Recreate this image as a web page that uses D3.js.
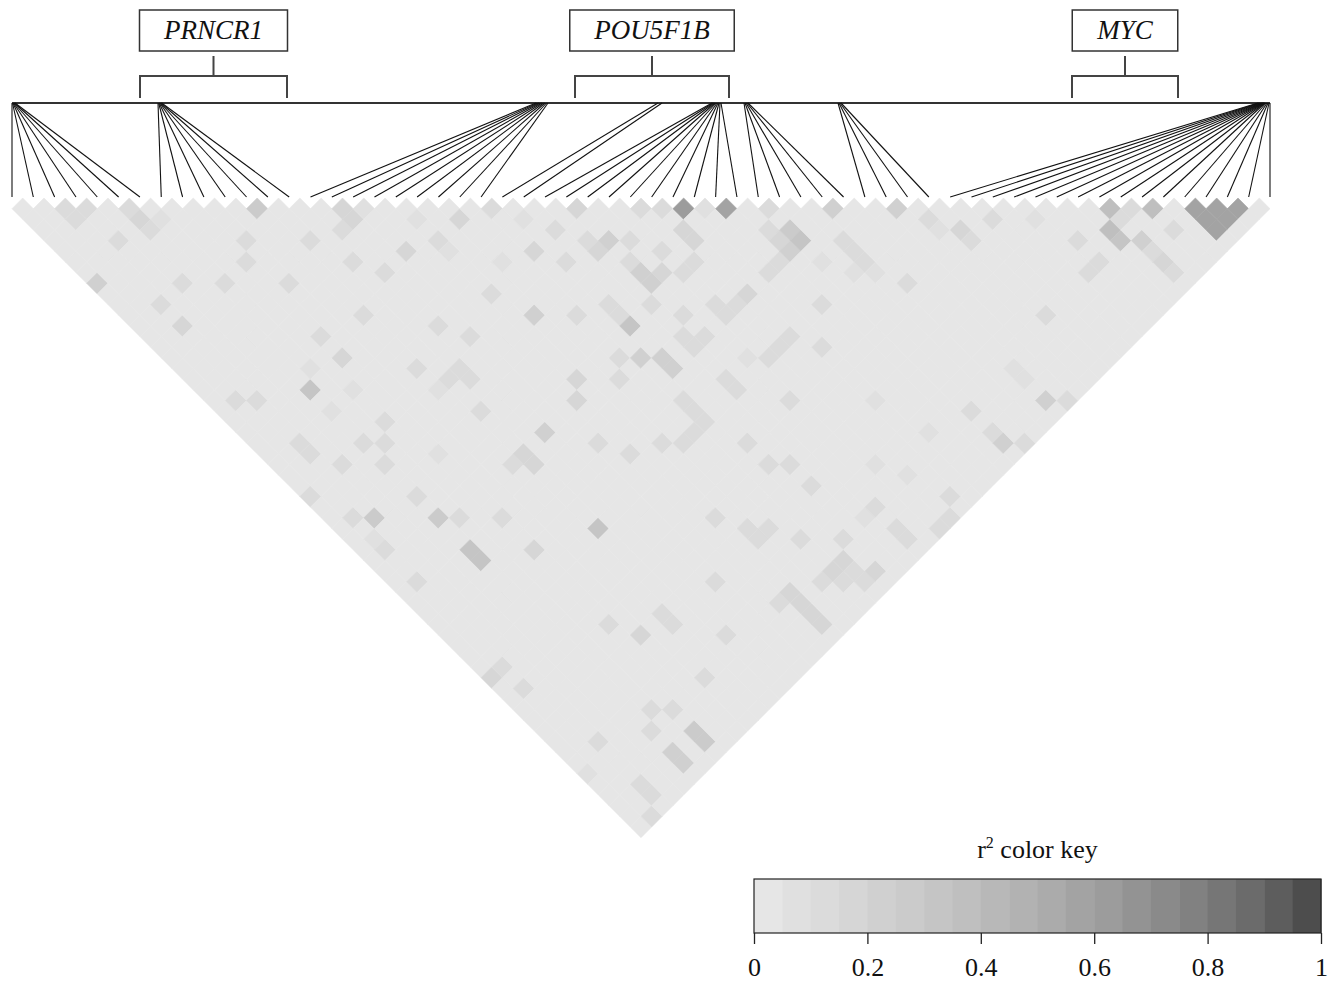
<!DOCTYPE html>
<html><head><meta charset="utf-8">
<script src="https://cdn.jsdelivr.net/npm/d3@7"></script>
<style>body{margin:0;background:#fff}svg{display:block}</style>
</head><body><svg id="c" width="1342" height="983"></svg>
<script>
// ---- DATA ----
// SNP genomic positions (kb from region start)
const snpPosKb = [
  0.0, 0.3, 0.6, 0.9, 1.2, 1.5, 1.8,
  87.6, 88.0, 88.3, 88.7, 89.0, 89.4, 89.8,
  314.4, 315.3, 316.2, 317.1, 318.0, 318.9, 319.8, 320.7, 321.6,
  387.6, 390.0,
  420.0, 420.6, 421.2, 421.8, 422.4, 423.0, 423.6, 424.2, 424.8, 425.4,
  439.2, 439.8, 440.4, 441.0, 441.6,
  495.6, 496.2, 496.8, 497.4,
  747.6, 748.2, 748.8, 749.4, 750.0, 750.3, 750.6, 750.9, 751.2, 751.5, 751.8, 752.4, 753.0, 753.6, 754.2, 754.8
];
const geneNames = ["PRNCR1", "POU5F1B", "MYC"];
const geneStartKb = [76.8, 337.8, 636.0];
const geneEndKb = [165.0, 430.2, 699.6];
// r2 of all other SNP pairs: below 0.05 (lightest key colour)
const baseR2 = 0.02;
// [snpA, snpB, r2] (1-based SNP order) for pairs darker than the background
const ldPairs = [
  [3,4,0.1],[4,5,0.1],[6,7,0.1],[12,13,0.25],[16,17,0.15],[17,18,0.08],[23,24,0.1],[27,28,0.15],
  [30,31,0.12],[31,32,0.1],[32,33,0.6],[33,34,0.08],[34,35,0.55],[36,37,0.1],[39,40,0.2],[42,43,0.2],
  [52,53,0.35],[53,54,0.12],[54,55,0.35],[56,57,0.55],[57,58,0.55],[58,59,0.55],
  [56,58,0.55],[57,59,0.55],[56,59,0.55],
  [3,5,0.1],[6,8,0.18],[6,9,0.1],[7,9,0.08],[16,18,0.18],[15,18,0.1],[19,21,0.08],[21,23,0.15],
  [19,23,0.12],[19,24,0.08],[21,27,0.08],[23,28,0.15],[24,26,0.08],[25,28,0.1],[24,30,0.1],[26,30,0.12],
  [27,31,0.2],[26,31,0.15],[27,33,0.12],[27,34,0.2],[27,35,0.2],[28,35,0.15],[28,32,0.1],[29,34,0.12],
  [31,34,0.15],[31,35,0.15],[30,36,0.12],[29,36,0.1],[35,38,0.1],[36,39,0.25],[36,40,0.3],[35,40,0.2],
  [34,40,0.12],[35,39,0.15],[33,40,0.1],[31,40,0.15],[30,40,0.12],[29,40,0.12],[38,42,0.12],[38,43,0.1],
  [36,42,0.08],[34,44,0.1],[32,46,0.1],[19,28,0.1],[20,31,0.2],[22,33,0.12],[24,34,0.12],[24,35,0.12],
  [24,36,0.3],[26,36,0.1],[27,38,0.1],[29,39,0.12],[26,39,0.12],[26,40,0.12],[27,40,0.1],[23,38,0.2],
  [24,39,0.2],[24,40,0.2],[22,37,0.1],[21,38,0.1],[19,36,0.15],[18,37,0.15],[15,27,0.1],[16,29,0.1],
  [14,30,0.1],[13,30,0.1],[14,31,0.1],[12,30,0.08],[13,33,0.1],[15,37,0.2],[13,37,0.15],[13,38,0.15],
  [12,37,0.12],[17,40,0.1],[18,42,0.12],[20,43,0.1],[23,42,0.12],[23,43,0.12],[23,44,0.12],[22,44,0.1],
  [21,44,0.1],[26,43,0.12],[26,44,0.1],[24,47,0.1],[24,49,0.1],[25,50,0.1],[28,47,0.1],[31,44,0.1],
  [30,44,0.1],[29,44,0.1],[28,43,0.08],[25,52,0.1],[37,44,0.08],[26,56,0.08],
  [1,9,0.2],[4,8,0.1],[3,15,0.15],[3,13,0.1],[5,13,0.1],[10,14,0.1],[9,15,0.1],[7,15,0.1],
  [10,18,0.1],[13,17,0.1],[14,20,0.1],[17,22,0.15],[15,22,0.1],[12,23,0.1],[9,22,0.1],[9,24,0.15],
  [6,24,0.3],[7,23,0.08],[8,26,0.08],[6,26,0.08],[2,21,0.1],[3,22,0.1],[3,26,0.1],[3,27,0.1],
  [4,29,0.1],[6,31,0.1],[8,29,0.1],[6,29,0.1],[7,30,0.1],[1,29,0.1],[3,33,0.25],[2,32,0.1],
  [6,34,0.1],[12,28,0.1],[9,33,0.08],
  [6,36,0.25],[7,37,0.1],[6,39,0.3],[6,40,0.3],[9,39,0.1],[13,44,0.3],[9,42,0.15],[2,35,0.1],
  [2,34,0.08],[2,38,0.1],[1,46,0.15],[2,46,0.12],[2,48,0.12],[9,49,0.1],[10,51,0.15],[12,51,0.12],
  [12,52,0.12],[14,55,0.12],[16,52,0.1],[19,49,0.1],[11,56,0.12],[7,55,0.12],[8,56,0.12],[6,56,0.1],
  [8,58,0.25],[8,59,0.25],[6,58,0.22],[6,59,0.22],[3,54,0.1],[1,55,0.08],[3,58,0.12],[3,59,0.1],[2,60,0.12],
  [20,51,0.12],[20,52,0.12],[21,52,0.1],[22,54,0.1],[24,56,0.12],[23,57,0.15],[22,57,0.15],[21,57,0.1],
  [22,58,0.12],[23,58,0.12],[24,59,0.15],[23,59,0.12],[19,56,0.15],[19,57,0.15],[19,58,0.15],[19,59,0.15],
  [18,56,0.1],[27,58,0.1],[29,60,0.12],[27,56,0.1],[27,59,0.1],
  [43,45,0.1],[43,46,0.08],[44,47,0.15],[44,48,0.12],[46,48,0.1],[48,50,0.08],[49,53,0.1],[48,55,0.1],
  [49,55,0.1],[51,54,0.35],[51,55,0.3],[52,56,0.2],[52,54,0.12],[52,58,0.15],[52,59,0.12],[54,57,0.1],
  [52,57,0.1],[39,47,0.12],[38,45,0.08],[44,55,0.12],[40,56,0.08],[40,57,0.08],[40,59,0.2],[41,60,0.12],
  [36,56,0.1],[36,58,0.1],[36,59,0.2],[37,60,0.12],[33,55,0.08],[32,51,0.08],[29,54,0.08],[30,56,0.08],
  [31,59,0.12],[30,60,0.1],[38,44,0.1]
];
const keyTicks = [0, 0.2, 0.4, 0.6, 0.8, 1];
const keyTickLabels = ["0", "0.2", "0.4", "0.6", "0.8", "1"];
const keyBins = 20;

// ---- DRAW ----
const svg = d3.select("#c");
const serif = "'Liberation Serif','Times New Roman',serif";
const n = snpPosKb.length;
const xIdx = d3.scaleLinear().domain([1, n]).range([12, 1270]);
const xGen = d3.scaleLinear().domain([snpPosKb[0], snpPosKb[n - 1]]).range([12, 1270]);
const yTop = 198, yGen = 103, yLineEnd = 197;
const h = (xIdx(2) - xIdx(1)) / 2;

const A = Math.pow(0.9, 2.2), B = Math.pow(0.3, 2.2);
const greys = d3.range(keyBins).map(k => {
  const g = Math.round(255 * Math.pow(A - (A - B) * k / (keyBins - 1), 1 / 2.2));
  return d3.rgb(g, g, g).formatHex();
});
const color = d3.scaleQuantize().domain([0, 1]).range(greys);

const r2Map = new Map(ldPairs.map(p => [p[0] + "-" + p[1], p[2]]));
const cells = [];
for (let i = 1; i < n; i++) for (let j = i + 1; j <= n; j++) {
  const v = r2Map.has(i + "-" + j) ? r2Map.get(i + "-" + j) : baseR2;
  cells.push({ i, j, r2: v });
}
svg.append("g").selectAll("path").data(cells).join("path")
  .attr("d", c => {
    const cx = (xIdx(c.i) + xIdx(c.j)) / 2, cy = yTop + (c.j - c.i) * h;
    return `M${cx},${cy - h}L${cx + h},${cy}L${cx},${cy + h}L${cx - h},${cy}Z`;
  })
  .attr("fill", c => color(c.r2))
  .attr("stroke", c => color(c.r2))
  .attr("stroke-width", 0.6);

// genomic line and connectors
svg.append("line").attr("x1", xGen(snpPosKb[0])).attr("x2", xGen(snpPosKb[n - 1]))
  .attr("y1", yGen).attr("y2", yGen).attr("stroke", "#333").attr("stroke-width", 2);
svg.append("g").selectAll("line").data(snpPosKb).join("line")
  .attr("x1", p => xGen(p)).attr("y1", yGen)
  .attr("x2", (p, k) => xIdx(k + 1)).attr("y2", yLineEnd)
  .attr("stroke", "#111").attr("stroke-width", 1.1);

// genes
const gg = svg.append("g");
geneNames.forEach((g, k) => {
  const x0 = xGen(geneStartKb[k]), x1 = xGen(geneEndKb[k]), xm = (x0 + x1) / 2;
  gg.append("path").attr("d", `M${x0},98V76H${x1}V98M${xm},76V56`)
    .attr("fill", "none").attr("stroke", "#444").attr("stroke-width", 2);
  const t = gg.append("text").attr("x", xm).attr("y", 39).attr("text-anchor", "middle")
    .attr("font-family", serif).attr("font-style", "italic").attr("font-size", 27).attr("fill", "#111").text(g);
  const bb = t.node().getBBox();
  gg.insert("rect", "text").attr("x", xm - bb.width / 2 - 24).attr("y", 10)
    .attr("width", bb.width + 48).attr("height", 41)
    .attr("fill", "#fff").attr("stroke", "#333").attr("stroke-width", 1.5);
});

// color key
const kx = d3.scaleLinear().domain([0, 1]).range([754, 1321]);
const ky0 = 879, ky1 = 933;
const kg = svg.append("g");
kg.selectAll("rect.bin").data(greys).join("rect").attr("class", "bin")
  .attr("x", (c, k) => kx(k / keyBins)).attr("y", ky0)
  .attr("width", kx(1 / keyBins) - kx(0) + 0.5).attr("height", ky1 - ky0).attr("fill", c => c);
kg.append("rect").attr("x", kx(0)).attr("y", ky0).attr("width", kx(1) - kx(0)).attr("height", ky1 - ky0)
  .attr("fill", "none").attr("stroke", "#222").attr("stroke-width", 1.2);
const ax = kg.append("g").attr("transform", `translate(0,${ky1})`)
  .call(d3.axisBottom(kx).tickValues(keyTicks).tickFormat((d, k) => keyTickLabels[k]).tickSize(11).tickPadding(14));
ax.select(".domain").remove();
ax.selectAll("line").attr("stroke", "#222").attr("stroke-width", 1.3);
ax.selectAll("text").attr("font-family", serif).attr("font-size", 26).attr("fill", "#111");
const title = kg.append("text").attr("x", kx(0.5)).attr("y", 858).attr("text-anchor", "middle")
  .attr("font-family", serif).attr("font-size", 26).attr("fill", "#111");
title.append("tspan").text("r");
title.append("tspan").attr("dy", -10).attr("font-size", 16).text("2");
title.append("tspan").attr("dy", 10).text(" color key");
</script></body></html>
